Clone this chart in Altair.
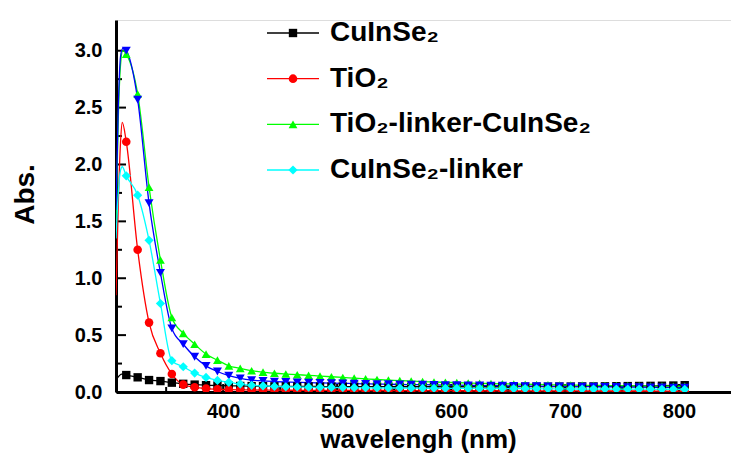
import altair as alt
import pandas as pd

FONT = "Liberation Sans"

# ---------------- data ----------------
series_keys = ["CuInSe2", "TiO2", "TiO2-linker-CuInSe2", "blue", "CuInSe2-linker"]
series_colors = ["#000000", "#ff0000", "#00ff00", "#0000ff", "#00ffff"]
series_shapes = ["square", "circle", "triangle-up", "triangle-down", "diamond"]
series_sizes = [70, 85, 100, 100, 95]

legend_keys = ["CuInSe2", "TiO2", "TiO2-linker-CuInSe2", "CuInSe2-linker"]
legend_labels = ["CuInSe₂", "TiO₂", "TiO₂-linker-CuInSe₂", "CuInSe₂-linker"]

# marker wavelengths (nm)
nm_marks = [315, 325, 335, 345, 355, 365, 375, 385, 395, 405,
            415, 425, 435, 445, 455, 465, 475, 485, 495, 505,
            515, 525, 535, 545, 555, 565, 575, 585, 595, 605,
            615, 625, 635, 645, 655, 665, 675, 685, 695, 705,
            715, 725, 735, 745, 755, 765, 775, 785, 795, 805]

black_abs = [0.149, 0.129, 0.105, 0.096, 0.082, 0.072, 0.065, 0.060, 0.057, 0.055,
             0.053, 0.052, 0.051, 0.050, 0.050, 0.049, 0.049, 0.048, 0.048, 0.048,
             0.047, 0.047, 0.047, 0.047, 0.046, 0.046, 0.046, 0.046, 0.046, 0.046,
             0.046, 0.046, 0.046, 0.046, 0.046, 0.047, 0.047, 0.047, 0.048, 0.048,
             0.049, 0.049, 0.050, 0.051, 0.052, 0.053, 0.054, 0.055, 0.057, 0.060]

red_abs = [2.20, 1.25, 0.61, 0.34, 0.158, 0.065, 0.042, 0.030, 0.024, 0.021,
           0.019, 0.018, 0.017, 0.016, 0.016, 0.015, 0.015, 0.014, 0.014, 0.014,
           0.013, 0.013, 0.013, 0.013, 0.012, 0.012, 0.012, 0.012, 0.012, 0.011,
           0.011, 0.011, 0.011, 0.011, 0.010, 0.010, 0.010, 0.010, 0.010, 0.010,
           0.009, 0.009, 0.009, 0.009, 0.009, 0.009, 0.009, 0.008, 0.008, 0.008]

green_abs = [2.97, 2.62, 1.80, 1.16, 0.655, 0.515, 0.42, 0.333, 0.28, 0.23,
             0.208, 0.187, 0.175, 0.165, 0.158, 0.152, 0.146, 0.140, 0.134, 0.128,
             0.122, 0.116, 0.110, 0.105, 0.100, 0.096, 0.092, 0.088, 0.085, 0.082,
             0.079, 0.076, 0.074, 0.072, 0.070, 0.068, 0.066, 0.064, 0.062, 0.061,
             0.060, 0.058, 0.057, 0.056, 0.055, 0.054, 0.053, 0.052, 0.051, 0.050]

blue_abs = [3.00, 2.57, 1.66, 1.047, 0.559, 0.42, 0.31, 0.23, 0.18, 0.143,
            0.120, 0.105, 0.097, 0.092, 0.088, 0.085, 0.082, 0.080, 0.078, 0.076,
            0.074, 0.072, 0.070, 0.068, 0.066, 0.065, 0.064, 0.062, 0.061, 0.060,
            0.058, 0.057, 0.056, 0.055, 0.053, 0.052, 0.051, 0.050, 0.049, 0.048,
            0.047, 0.046, 0.045, 0.044, 0.043, 0.042, 0.041, 0.040, 0.039, 0.038]

cyan_abs = [1.90, 1.73, 1.333, 0.778, 0.275, 0.222, 0.166, 0.128, 0.102, 0.085,
            0.070, 0.059, 0.053, 0.049, 0.046, 0.044, 0.042, 0.041, 0.040, 0.039,
            0.038, 0.037, 0.036, 0.035, 0.035, 0.034, 0.033, 0.033, 0.032, 0.032,
            0.031, 0.031, 0.030, 0.030, 0.029, 0.029, 0.028, 0.028, 0.027, 0.027,
            0.026, 0.026, 0.026, 0.025, 0.025, 0.025, 0.024, 0.024, 0.024, 0.023]

# extra curve points (no marker) at the steep onset near the axis
black_rise_nm = [307, 311]
black_rise = [0.12, 0.158]
red_rise_nm = [306, 308, 310, 311.5]
red_rise = [0.85, 1.65, 2.20, 2.37]
green_rise_nm = [306, 308, 310, 312]
green_rise = [1.50, 2.40, 2.88, 3.00]
blue_rise_nm = [306, 308, 310, 312]
blue_rise = [1.60, 2.50, 2.95, 3.02]
cyan_rise_nm = [306, 308, 310, 311.5]
cyan_rise = [1.35, 1.75, 1.95, 1.98]

y_major = [0.0, 0.5, 1.0, 1.5, 2.0, 2.5, 3.0]
y_minor = [0.25, 0.75, 1.25, 1.75, 2.25, 2.75]
x_major = [400, 500, 600, 700, 800]
x_minor = [350, 450, 550, 650, 750]

# ---------------- tables ----------------
marks_vals = [black_abs, red_abs, green_abs, blue_abs, cyan_abs]
rise_nm = [black_rise_nm, red_rise_nm, green_rise_nm, blue_rise_nm, cyan_rise_nm]
rise_vals = [black_rise, red_rise, green_rise, blue_rise, cyan_rise]

rows_line, rows_mark = [], []
for k, key in enumerate(series_keys):
    for w, v in zip(rise_nm[k], rise_vals[k]):
        rows_line.append({"series": key, "nm": w, "abs": v, "order": k})
    for w, v in zip(nm_marks, marks_vals[k]):
        rows_line.append({"series": key, "nm": w, "abs": v, "order": k})
        rows_mark.append({"series": key, "nm": w, "abs": v, "order": k})
df_line = pd.DataFrame(rows_line)
df_mark = pd.DataFrame(rows_mark)

# ---------------- scales / axes ----------------
W, H = 615, 372
xs = alt.Scale(domain=[306, 845.6], nice=False, zero=False)
ys = alt.Scale(domain=[0, 3.27], nice=False, zero=False)
cs = alt.Scale(domain=series_keys, range=series_colors)
ss = alt.Scale(domain=series_keys, range=series_shapes)
zs = alt.Scale(domain=series_keys, range=series_sizes)

xaxis = alt.Axis(title="wavelengh (nm)", values=x_major, ticks=False, grid=False,
                 labelPadding=9, labelFontSize=20, labelFont=FONT, labelFontWeight="bold",
                 labelColor="black", domainWidth=3, domainColor="black",
                 titleFontSize=26, titleFont=FONT, titleFontWeight="bold", titleColor="black",
                 titleX=302, titleY=55, titleAlign="center", titleBaseline="alphabetic")
yaxis = alt.Axis(title="Abs.", values=y_major, format=".1f", ticks=False, grid=False,
                 labelPadding=14, labelFontSize=20, labelFont=FONT, labelFontWeight="bold",
                 labelColor="black", domainWidth=3, domainColor="black",
                 titleFontSize=28, titleFont=FONT, titleFontWeight="bold", titleColor="black",
                 titleAngle=270, titleX=-83, titleY=174, titleAlign="center",
                 titleBaseline="alphabetic")

X = alt.X("nm:Q", scale=xs, axis=xaxis)
Y = alt.Y("abs:Q", scale=ys, axis=yaxis)
C = alt.Color("series:N", scale=cs, legend=None)

lines = alt.Chart(df_line).mark_line(strokeWidth=1.3, interpolate="monotone", clip=True).encode(
    x=X, y=Y, color=C, order=alt.Order("nm:Q"))

points = alt.Chart(df_mark).mark_point(filled=True, opacity=1, clip=True).encode(
    x=X, y=Y, color=C,
    shape=alt.Shape("series:N", scale=ss, legend=None),
    size=alt.Size("series:N", scale=zs, legend=None),
    order=alt.Order("order:Q"))

ytick_major = alt.Chart(pd.DataFrame({"abs": y_major})).mark_rule(color="black", strokeWidth=2).encode(
    y=Y, x=alt.value(0), x2=alt.value(10))
ytick_minor = alt.Chart(pd.DataFrame({"abs": y_minor})).mark_rule(color="black", strokeWidth=2).encode(
    y=Y, x=alt.value(0), x2=alt.value(6))
xtick_major = alt.Chart(pd.DataFrame({"nm": x_major})).mark_rule(color="black", strokeWidth=2).encode(
    x=X, y=alt.value(H), y2=alt.value(H - 8))
xtick_minor = alt.Chart(pd.DataFrame({"nm": x_minor})).mark_rule(color="black", strokeWidth=2).encode(
    x=X, y=alt.value(H), y2=alt.value(H - 5))

main = alt.layer(ytick_major, ytick_minor, xtick_major, xtick_minor, lines, points)

# ---------------- legend (drawn as marks) ----------------
df_leg = pd.DataFrame({"series": legend_keys, "label": legend_labels})
LY = alt.Y("label:N", scale=alt.Scale(type="point", domain=legend_labels, range=[13, 150], padding=0),
           axis=None)
leg_line = alt.Chart(df_leg).mark_rule(strokeWidth=1.3).encode(
    y=LY, x=alt.value(151), x2=alt.value(203), color=C)
leg_pts = alt.Chart(df_leg).mark_point(filled=True, opacity=1).encode(
    y=LY, x=alt.value(177), color=C,
    shape=alt.Shape("series:N", scale=ss, legend=None),
    size=alt.Size("series:N", scale=zs, legend=None))
leg_txt = alt.Chart(df_leg).mark_text(align="left", baseline="middle", font=FONT, fontSize=28,
                                      fontWeight="bold", color="black").encode(
    y=LY, x=alt.value(214), text="label:N")
legend = alt.layer(leg_line, leg_pts, leg_txt)

chart = alt.layer(main, legend).resolve_scale(y="independent").properties(
    width=W, height=H,
    padding={"left": 116, "top": 20, "right": 0, "bottom": 61},
    autosize=alt.AutoSizeParams(type="none"),
).configure_view(stroke=None).configure(background="white")

chart.save("out.html", embed_options={"renderer": "svg", "actions": False})
